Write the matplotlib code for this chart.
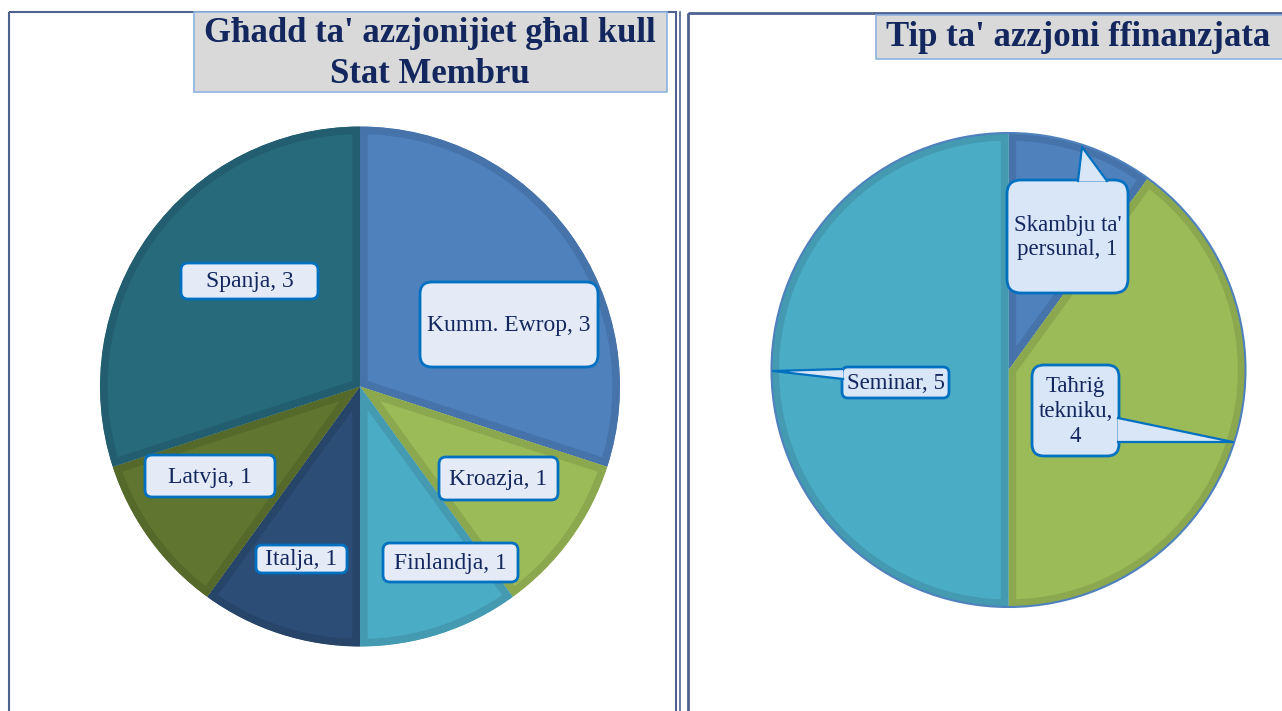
import matplotlib
matplotlib.use("Agg")
import matplotlib.pyplot as plt
from matplotlib.patches import Rectangle, FancyBboxPatch, Polygon
from matplotlib.lines import Line2D

# left chart: actions per member state
states = ["Kumm. Ewrop", "Kroazja", "Finlandja", "Italja", "Latvja", "Spanja"]
state_counts = [3, 1, 1, 1, 1, 3]
state_colors = ["#4F81BD", "#9BBB59", "#4BACC6", "#2C4D75", "#5F7530", "#276A7C"]
state_edges = ["#4673A9", "#8BA84F", "#439AB1", "#274469", "#55692B", "#225E6F"]

# right chart: type of funded action
types = ["Skambju ta'\npersunal,", "Taħriġ\ntekniku,\n", "Seminar,"]
type_counts = [1, 4, 5]
type_colors = ["#4F81BD", "#9BBB59", "#4BACC6"]
type_edges = ["#4673A9", "#8BA84F", "#439AB1"]

W, H = 1282, 711
navy = "#13275E"
blue_line = "#0070C0"

# label boxes in pixels (x0, y0, x1, y1, corner radius)
left_boxes = [(420, 282, 598, 367, 12), (439, 457, 558, 500, 7), (383, 543, 518, 582, 7),
              (256, 545, 347, 573, 6), (145, 455, 275, 497, 7), (181, 263, 318, 299, 7)]
right_boxes = [(1007, 180, 1128, 293, 14), (1032, 365, 1119, 456, 12), (842, 367, 949, 398, 6)]
# callout pointers: base point a, base point b, tip
pointers = [((1078, 181), (1107, 181), (1082, 147)),
            ((1118, 418), (1118, 442), (1233, 442)),
            ((843, 369), (843, 379), (773, 371))]

fig = plt.figure(figsize=(12.82, 7.11), dpi=100)


def px_axes(cx, cy, r):
    return fig.add_axes([(cx - r) / W, (H - cy - r) / H, 2 * r / W, 2 * r / H])


def draw_pie(ax, counts, colors, edges):
    wedges, _ = ax.pie(counts, colors=colors, startangle=90, counterclock=False,
                       radius=1.0, wedgeprops=dict(linewidth=0))
    for w, ec in zip(wedges, edges):
        # darker inner rim: wide stroke clipped to the wedge itself
        w.set_edgecolor(ec)
        w.set_linewidth(11)
        w.set_clip_on(True)
        w.set_clip_path(w)
    ax.set_xlim(-1.02, 1.02)
    ax.set_ylim(-1.02, 1.02)
    ax.set_aspect("equal")
    ax.axis("off")
    return wedges


# panel frames
frame = fig.add_axes([0, 0, 1, 1])
frame.set_xlim(0, W)
frame.set_ylim(H, 0)
frame.axis("off")
frame.add_patch(Rectangle((9, 12), 667, 720, fill=False, ec="#4E6290", lw=1.5))
frame.add_line(Line2D([680, 680], [12, 711], color="#4E6290", lw=1.2))
frame.add_patch(Rectangle((688, 13), 620, 720, fill=False, ec="#4E6290", lw=2))

# titles
frame.add_patch(Rectangle((194, 12), 473, 80, fc="#D9D9D9", ec="#8DB3E2", lw=1.2))
frame.text(430, 54, "Għadd ta' azzjonijiet għal kull\nStat Membru", ha="center", va="center",
           fontsize=25, fontweight="bold", family="Liberation Serif", color=navy,
           linespacing=1.3)
frame.add_patch(Rectangle((876, 15), 420, 44, fc="#D9D9D9", ec="#8DB3E2", lw=1.2))
frame.text(1078, 38, "Tip ta' azzjoni ffinanzjata", ha="center", va="center",
           fontsize=25, fontweight="bold", family="Liberation Serif", color=navy)

# pies
ax1 = px_axes(360, 386.5, 260 * 1.02)
draw_pie(ax1, state_counts, state_colors, state_edges)
ax2 = px_axes(1008.5, 370, 237 * 1.02)
draw_pie(ax2, type_counts, type_colors, type_edges)
ax2.add_patch(plt.Circle((0, 0), 1.0, fill=False, ec="#4F81BD", lw=1.5))

# labels overlay
over = fig.add_axes([0, 0, 1, 1])
over.set_xlim(0, W)
over.set_ylim(H, 0)
over.axis("off")


def box_label(text, box, size, fc, family="Liberation Serif"):
    x0, y0, x1, y1, rs = box
    over.add_patch(FancyBboxPatch((x0 + rs, y0 + rs), x1 - x0 - 2 * rs, y1 - y0 - 2 * rs,
                                  boxstyle=f"round,pad={rs}", fc=fc, ec=blue_line, lw=2))
    over.text((x0 + x1) / 2, (y0 + y1) / 2 + 1, text, ha="center", va="center",
              fontsize=size, color=navy, family=family, linespacing=1.25)


for name, n, b in zip(states, state_counts, left_boxes):
    box_label(f"{name}, {n}", b, 17, "#E4EBF7")

for name, n, b, (pa, pb, tip) in zip(types, type_counts, right_boxes, pointers):
    box_label(f"{name} {n}" if not name.endswith("\n") else f"{name}{n}", b, 16.5, "#D9E6F8")
    over.add_patch(Polygon([pa, pb, tip], closed=True, fc="#D9E6F8", ec="none", zorder=3))
    over.add_line(Line2D([pa[0], tip[0], pb[0]], [pa[1], tip[1], pb[1]],
                         color=blue_line, lw=1.6, zorder=3))

fig.savefig("out.png", dpi=100)
